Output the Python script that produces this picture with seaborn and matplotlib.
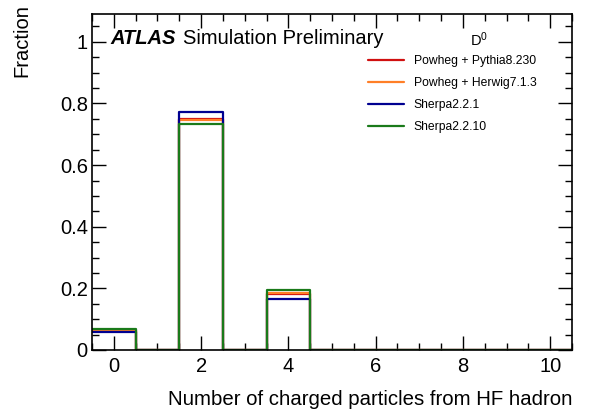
import numpy as np
import pandas as pd
import matplotlib
matplotlib.use("Agg")
import matplotlib.pyplot as plt
import seaborn as sns
from matplotlib.ticker import MultipleLocator

sns.set_theme(style="ticks")
plt.rcParams['font.family'] = ['Liberation Sans', 'DejaVu Sans']
plt.rcParams['mathtext.fontset'] = 'custom'
plt.rcParams['mathtext.rm'] = 'Liberation Sans'
for k in ['text.color', 'axes.labelcolor', 'xtick.color', 'ytick.color', 'axes.edgecolor']:
    plt.rcParams[k] = 'black'

# Data
n_charged = [0, 1, 2, 3, 4, 5, 6, 7, 8, 9, 10]
powheg_pythia = [0.065, 0.0, 0.750, 0.0, 0.182, 0.0, 0.0, 0.0, 0.0, 0.0, 0.0]
powheg_herwig = [0.063, 0.0, 0.747, 0.0, 0.184, 0.0, 0.0, 0.0, 0.0, 0.0, 0.0]
sherpa_221 = [0.059, 0.0, 0.772, 0.0, 0.167, 0.0, 0.0, 0.0, 0.0, 0.0, 0.0]
sherpa_2210 = [0.069, 0.0, 0.734, 0.0, 0.196, 0.0, 0.0, 0.0, 0.0, 0.0, 0.0]
labels = ["Powheg + Pythia8.230", "Powheg + Herwig7.1.3", "Sherpa2.2.1", "Sherpa2.2.10"]
colors = ["#d01010", "#ff7f27", "#000090", "#1a7a1a"]
series = [powheg_pythia, powheg_herwig, sherpa_221, sherpa_2210]

fig = plt.figure(figsize=(5.9, 4.16), dpi=100)
ax = fig.add_axes([0.156, 0.1587, 0.8135, 0.8073])

edges = [x - 0.5 for x in range(12)]
for vals, lab, col in zip(series, labels, colors):
    df = pd.DataFrame({"n": n_charged, "w": vals})
    sns.histplot(data=df, x="n", weights="w", bins=edges, element="step",
                 fill=False, color=col, linewidth=1.6, label=lab, ax=ax)

ax.set_xlim(-0.5, 10.5)
ax.set_ylim(0, 1.09)
ax.xaxis.set_major_locator(MultipleLocator(2))
ax.xaxis.set_minor_locator(MultipleLocator(0.5))
ax.yaxis.set_major_locator(MultipleLocator(0.2))
ax.yaxis.set_minor_locator(MultipleLocator(0.05))
ax.tick_params(which="both", direction="in", top=True, right=True, color="black", width=1.0)
ax.tick_params(which="major", length=10, labelsize=14.5)
ax.tick_params(axis="y", which="major", pad=3)
ax.tick_params(axis="x", which="major", pad=5)
ax.tick_params(which="minor", length=5)
for s in ax.spines.values():
    s.set_linewidth(1.2)
    s.set_color("black")
ax.set_yticks([0, 0.2, 0.4, 0.6, 0.8, 1.0])
ax.set_yticklabels(["0", "0.2", "0.4", "0.6", "0.8", "1"])

ax.set_xlabel("Number of charged particles from HF hadron", fontsize=14.7, loc="right", labelpad=10)
ax.set_ylabel("")
fig.text(22 / 590, 1 - 4 / 416, "Fraction", rotation=90, fontsize=14.5,
         ha="center", va="top")

ax.text(0.038, 0.955, "ATLAS", transform=ax.transAxes, fontsize=14.5, fontweight="bold",
        fontstyle="italic", va="top", ha="left")
ax.text(0.189, 0.955, "Simulation Preliminary", transform=ax.transAxes, fontsize=14.5,
        va="top", ha="left")
ax.text(0.806, 0.952, r"$\mathregular{D^0}$", transform=ax.transAxes, fontsize=10.5,
        va="top", ha="center")

leg = ax.legend(loc="upper left", bbox_to_anchor=(0.552, 0.91), frameon=False,
                fontsize=8.7, handlelength=3.0, handletextpad=0.8, labelspacing=0.83)

fig.savefig("out.png", dpi=100)
